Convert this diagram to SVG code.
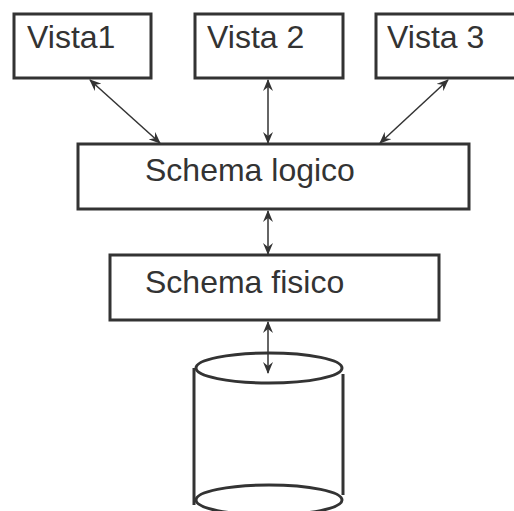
<svg xmlns="http://www.w3.org/2000/svg" width="514" height="511" viewBox="0 0 514 511">
<style>
.box{fill:#fff;stroke:#333;stroke-width:3}
.lbl{font-family:"Liberation Sans",Arial,sans-serif;font-size:32px;fill:#333}
.con{stroke:#333;stroke-width:1.5;fill:none;marker-start:url(#ah);marker-end:url(#ah)}
.cyl{fill:none;stroke:#333;stroke-width:3}
</style>
<defs>
<marker id="ah" viewBox="0 0 12 10" refX="11" refY="5" markerWidth="12" markerHeight="10" markerUnits="userSpaceOnUse" orient="auto-start-reverse">
<path d="M0,0 L12,5 L0,10 L4,5 Z" fill="#333"/>
</marker>
</defs>
<rect width="514" height="511" fill="#fff"/>
<g id="vista1"><rect class="box" x="14" y="14" width="137" height="64"/><text class="lbl" x="27" y="48">Vista1</text></g>
<g id="vista2"><rect class="box" x="195" y="14" width="148" height="64"/><text class="lbl" x="207" y="48">Vista 2</text></g>
<g id="vista3"><rect class="box" x="376" y="14" width="150" height="64"/><text class="lbl" x="387" y="48">Vista 3</text></g>
<g id="logico"><rect class="box" x="78" y="144" width="391" height="65"/><text class="lbl" x="145" y="181">Schema logico</text></g>
<g id="fisico"><rect class="box" x="110" y="255" width="329" height="65"/><text class="lbl" x="145" y="293">Schema fisico</text></g>
<g id="db">
<ellipse class="cyl" cx="269" cy="368" rx="73" ry="15"/>
<line class="cyl" x1="194" y1="368" x2="194" y2="505"/>
<line class="cyl" x1="343" y1="374" x2="343" y2="495"/>
<ellipse class="cyl" cx="269" cy="500" rx="73" ry="15"/>
</g>
<g id="connectors">
<line class="con" x1="90" y1="80" x2="160" y2="143"/>
<line class="con" x1="268" y1="80" x2="268" y2="143"/>
<line class="con" x1="448" y1="80" x2="380" y2="143"/>
<line class="con" x1="268" y1="211" x2="268" y2="254"/>
<line class="con" x1="268" y1="322" x2="268" y2="373"/>
</g>
</svg>
